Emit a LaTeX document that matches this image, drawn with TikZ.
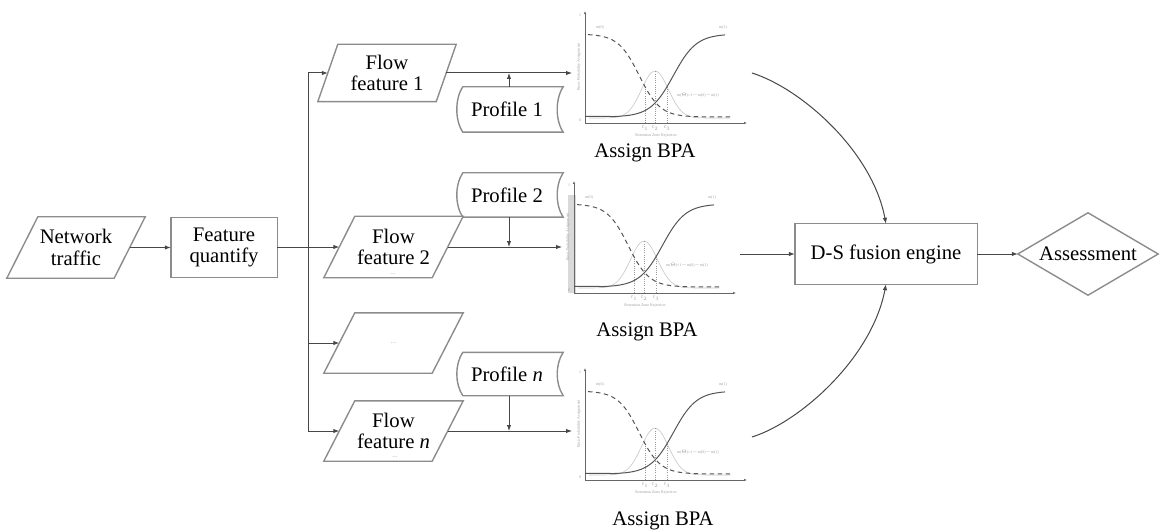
\documentclass[tikz,border=0pt]{standalone}
\usepackage{fontspec}
\setmainfont{Liberation Serif}
\usetikzlibrary{arrows.meta,calc}
\definecolor{boxc}{HTML}{8C8C8C}
\definecolor{linec}{HTML}{474747}
\definecolor{curvec}{HTML}{555555}
\tikzset{
  every node/.style={font=\fontsize{20.7}{21.5}\selectfont, text=black},
  base/.style={shape=rectangle, inner sep=0pt, align=center},
  boxline/.style={draw=boxc, line width=1.4pt, line join=miter},
  conn/.style={draw=linec, line width=1pt},
  arr/.style={conn, -{Latex[length=6pt,width=4.5pt]}},
  tinytext/.style={font=\fontsize{4}{4.5}\selectfont, text=gray!75, inner sep=0pt},
  marktext/.style={font=\fontsize{7}{7}\selectfont, text=gray!70, inner sep=0pt},
  axisc/.style={draw=gray!80!black, line width=0.8pt, -{Latex[length=3pt,width=2.4pt]}},
  curvesolid/.style={draw=curvec, line width=1pt},
  curvedash/.style={draw=curvec, line width=1pt, dash pattern=on 4.5pt off 3.5pt},
  bellc/.style={draw=gray!45, line width=0.6pt},
  dotc/.style={draw=gray!80, line width=0.5pt, dash pattern=on 1pt off 1.2pt},
}
\newcommand\parashape[2]{\draw[boxline] ([xshift=#2pt]#1.north west) -- ([xshift=#2pt]#1.north east) -- ([xshift=-#2pt]#1.south east) -- ([xshift=-#2pt]#1.south west) -- cycle;}
\newcommand\storeshape[1]{\draw[boxline] (#1.north west) .. controls ([xshift=-8pt,yshift=-12pt]#1.north west) and ([xshift=-8pt,yshift=12pt]#1.south west) .. (#1.south west) -- (#1.south east) .. controls ([xshift=-8pt,yshift=12pt]#1.south east) and ([xshift=-8pt,yshift=-12pt]#1.north east) .. (#1.north east) -- cycle;}
\newcommand\bpachart[3]{%
\begin{scope}[shift={(#1,#2)}, y=1pt]
  \coordinate (#3o) at (0,0);
  \draw[axisc] (0,0) -- (162,0);
  \draw[axisc] (0,0) -- (0,112);
  \draw[bellc] plot[domain=4:145, samples=60, smooth] (\x,{5+47*exp(-(\x-70)*(\x-70)/361)});
  \draw[dotc] (60,0) -- (60,36) (70,0) -- (70,52) (82,0) -- (82,36);
  \draw[curvedash] plot[domain=3:125, samples=60, smooth] (\x,{6+83/(1+exp((\x-54.2)/10.5))}) -- (145,6);
  \draw[curvesolid] (0,6.5) -- (25,6.6) -- plot[domain=25:140, samples=60, smooth] (\x,{6+83/(1+exp(-(\x-88.4)/11.5))});
  \node[tinytext] (#3a) at (15,95) {m(0)};
  \node[tinytext] (#3b) at (138,95) {m(1)};
  \node[tinytext] (#3c) at (113,28) {m($\Theta$)=1$-$m(0)$-$m(1)};
  \node[tinytext] (#3d) at (60,-5) {$t_1$};
  \node[tinytext] (#3e) at (70,-5) {$t_2$};
  \node[tinytext] (#3f) at (82,-5) {$t_3$};
  \node[tinytext] (#3g) at (71,-13) {Retention Zone Rejection};
  \node[tinytext, rotate=90] (#3h) at (-6,56) {Basic Probability Assignment};
  \node[tinytext] (#3i) at (-5,108) {1};
  \node[tinytext] (#3j) at (-5,3) {0};
\end{scope}}
\begin{document}
\begin{tikzpicture}[x=1pt,y=-1pt]
\useasboundingbox (0,0) rectangle (1163,532);

% left part
\node[base, minimum width=107pt, minimum height=61pt] (nt) at (76,247.5) {Network\\traffic};
\parashape{nt}{15.5}
\node[base, minimum width=106pt, minimum height=60pt] (fq) at (224,247.5) {Feature\\quantify};
\draw[boxline] (fq.north west) rectangle (fq.south east);
\draw[arr] (nt.east) -- (fq.west);

% flow features
\node[base, minimum width=118pt, minimum height=57pt] (ff1) at (387,73) {Flow\\feature 1};
\parashape{ff1}{10}
\node[base, minimum width=108pt, minimum height=61pt] (ff2) at (393.5,247) {Flow\\feature 2};
\parashape{ff2}{15.5}
\node[base, minimum width=108pt, minimum height=60pt, font=\fontsize{7}{7}\selectfont, text=gray!70] (ffd) at (393.5,343) {...};
\parashape{ffd}{15.5}
\node[base, minimum width=108pt, minimum height=60pt] (ffn) at (393.5,431) {Flow\\feature \textit{n}};
\parashape{ffn}{15.5}
\node[marktext] (m2) at (393,274) {...};
\node[marktext] (mn) at (395,457) {...};

% bus
\coordinate (bus) at (308,247.5);
\coordinate (bus1) at (308,73);
\coordinate (busn) at (308,431);
\draw[conn] (fq.east) -- (bus);
\draw[conn] (bus1) -- (busn);
\draw[arr] (bus1) -- (ff1.west);
\draw[arr] (ff2.west -| bus) -- (ff2.west);
\draw[arr] (ffd.west -| bus) -- (ffd.west);
\draw[arr] (busn) -- (ffn.west);

% profiles
\node[base, minimum width=100pt, minimum height=45pt] (p1) at (513,109.5) {\kern-12pt Profile 1};
\storeshape{p1}
\node[base, minimum width=100pt, minimum height=44pt] (p2) at (513,195) {\kern-12pt Profile 2};
\storeshape{p2}
\node[base, minimum width=100pt, minimum height=43pt] (pn) at (513,374) {\kern-12pt Profile \textit{n}};
\storeshape{pn}

% chart inputs
\coordinate (j1) at (509,73);
\coordinate (j2) at (509,247);
\coordinate (jn) at (509,431);
\coordinate (c1in) at (572,73);
\coordinate (c2in) at (562,247);
\coordinate (c3in) at (572,431);
\draw[arr] (ff1.east) -- (c1in);
\draw[arr] (ff2.east) -- (c2in);
\draw[arr] (ffn.east) -- (c3in);
\draw[arr] (j1 |- p1.north) -- (j1);
\draw[arr] (j2 |- p2.south) -- (j2);
\draw[arr] (jn |- pn.south) -- (jn);

% charts
\bpachart{585}{123}{ca}
\fill[gray!30] (568,293) rectangle (576,195);
\bpachart{574}{293}{cb}
\bpachart{585}{480}{cc}
\node (l1) at (645,153) {Assign BPA};
\node (l2) at (647,332) {Assign BPA};
\node (l3) at (663,521) {Assign BPA};

% fusion
\node[base, minimum width=182pt, minimum height=60pt] (ds) at (886,254) {D-S fusion engine};
\draw[boxline] (ds.north west) rectangle (ds.south east);
\node[base, minimum width=140pt, minimum height=82pt] (as) at (1088,254) {Assessment};
\draw[boxline] (as.north) -- (as.east) -- (as.south) -- (as.west) -- cycle;

\coordinate (c1out) at (752,73);
\coordinate (c2out) at (740,254);
\coordinate (c3out) at (752,437);
\draw[arr] (c1out) .. controls (800,88) and (872,150) .. (ds.north);
\draw[arr] (c3out) .. controls (800,422) and (872,358) .. (ds.south);
\draw[arr] (c2out) -- (ds.west);
\draw[arr] (ds.east) -- (as.west);
\end{tikzpicture}
\end{document}
